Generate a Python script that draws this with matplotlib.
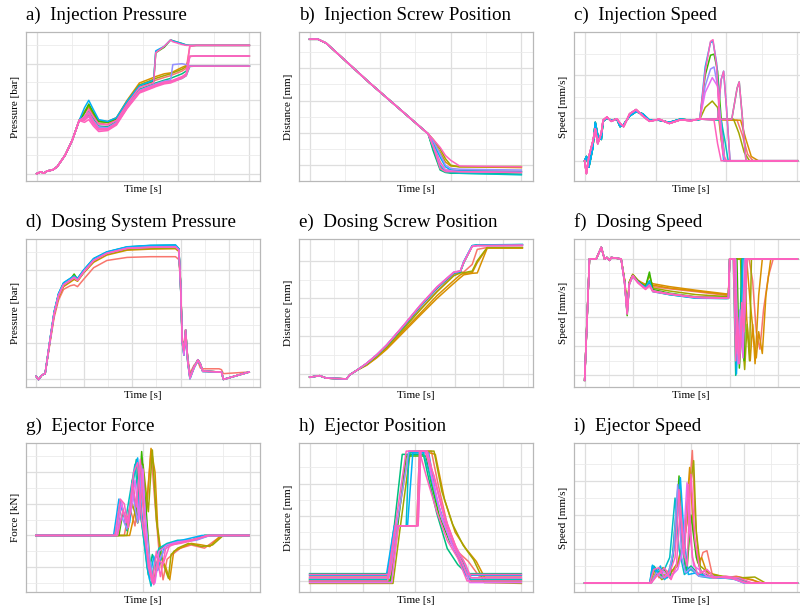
import matplotlib
matplotlib.use("Agg")
import matplotlib.pyplot as plt

plt.rcParams['font.family'] = ['Liberation Serif', 'DejaVu Serif']

# ggplot hue palette, 10 levels (last drawn = pink on top)
PALETTE = ['#F8766D', '#D89000', '#A3A500', '#39B600', '#00BF7D',
           '#00BFC4', '#00B0F6', '#9590FF', '#E76BF3', '#FF62BC']

TITLES = ["a)  Injection Pressure", "b)  Injection Screw Position", "c)  Injection Speed",
          "d)  Dosing System Pressure", "e)  Dosing Screw Position", "f)  Dosing Speed",
          "g)  Ejector Force", "h)  Ejector Position", "i)  Ejector Speed"]
YLABELS = ["Pressure [bar]", "Distance [mm]", "Speed [mm/s]",
           "Pressure [bar]", "Distance [mm]", "Speed [mm/s]",
           "Force [kN]", "Distance [mm]", "Speed [mm/s]"]

# ---------------- a) injection pressure ----------------
a_head_t = [0, 0.12, 0.2, 0.3, 0.45, 0.58, 0.8, 1.0, 1.2]
a_head_y = [0.0, 0.1, 0.02, 0.15, 0.2, 0.38, 1.0, 1.8, 2.9]
a_tail_t = [1.35, 1.47, 1.6, 1.75, 2.0, 2.25, 2.55, 2.9, 3.3, 3.36, 3.6, 3.78, 3.84, 4.1, 4.22, 4.32, 4.5, 6.0]
a_tails = [
    (0, [3.3, 3.6, 3.2, 2.75, 2.7, 2.95, 3.85, 4.7, 5.05, 5.1, 5.25, 5.35, 5.4, 5.6, 5.75, 6.95, 7.0, 7.0]),
    (1, [3.4, 3.75, 3.3, 2.9, 2.85, 3.05, 4.0, 4.95, 5.25, 5.3, 5.45, 5.5, 5.55, 5.8, 5.9, 5.88, 5.87, 5.87]),
    (2, [3.35, 3.7, 3.25, 2.85, 2.8, 3.0, 3.95, 4.85, 5.15, 5.2, 5.35, 5.45, 5.5, 5.7, 5.85, 6.4, 6.42, 6.42]),
    (3, [3.3, 3.8, 3.35, 2.85, 2.8, 3.0, 3.9, 4.8, 5.05, 6.6, 6.9, 7.3, 7.25, 7.1, 7.02, 7.0, 7.0, 7.0]),
    (4, [3.1, 3.4, 3.0, 2.6, 2.55, 2.85, 3.75, 4.6, 4.9, 4.95, 5.1, 5.2, 5.25, 5.45, 5.6, 5.88, 5.87, 5.87]),
    (5, [3.0, 3.2, 2.85, 2.5, 2.45, 2.75, 3.6, 4.45, 4.75, 4.8, 4.95, 5.0, 5.05, 5.2, 5.35, 5.85, 5.87, 5.87]),
    (6, [3.6, 4.0, 3.5, 2.95, 2.85, 3.05, 3.95, 4.8, 5.1, 6.7, 6.95, 7.3, 7.25, 7.1, 7.02, 7.0, 7.0, 7.0]),
    (7, [3.1, 3.35, 2.9, 2.55, 2.5, 2.8, 3.7, 4.55, 4.85, 4.9, 5.05, 5.1, 5.95, 6.0, 5.95, 5.88, 5.87, 5.87]),
    (8, [2.95, 3.1, 2.7, 2.4, 2.4, 2.7, 3.6, 4.45, 4.75, 4.8, 4.95, 5.0, 5.05, 5.25, 5.4, 6.4, 6.42, 6.42]),
    (9, [3.0, 3.3, 2.85, 2.45, 2.45, 2.75, 3.65, 4.5, 4.8, 4.85, 5.0, 5.05, 5.1, 5.3, 5.45, 6.95, 7.0, 7.0]),
    (9, [2.8, 2.95, 2.6, 2.3, 2.35, 2.65, 3.55, 4.4, 4.7, 4.75, 4.9, 4.95, 5.0, 5.2, 5.35, 6.4, 6.42, 6.42]),
    (9, [2.9, 3.15, 2.75, 2.4, 2.4, 2.7, 3.6, 4.48, 4.78, 4.82, 4.97, 5.02, 5.06, 5.26, 5.42, 5.86, 5.87, 5.87]),
    (9, [3.1, 3.5, 3.1, 2.7, 2.65, 2.9, 3.8, 4.7, 4.95, 6.6, 6.95, 7.3, 7.2, 7.05, 7.0, 7.0, 7.0, 7.0]),
]

# ---------------- b) injection screw position ----------------
b_head_t = [0, 0.24, 0.47, 1.7, 3.36]
b_head_y = [7.8, 7.8, 7.56, 5.1, 1.94]
b_tail_t = [3.5, 3.7, 3.85, 4.0, 4.25, 6.0]
b_tails = [
    (0, [1.3, 0.2, -0.3, -0.3, -0.35, -0.4]),
    (1, [1.5, 0.8, 0.2, -0.05, -0.1, -0.15]),
    (2, [1.6, 1.0, 0.4, 0.0, -0.1, -0.08]),
    (3, [1.0, -0.2, -0.35, -0.38, -0.4, -0.4]),
    (4, [0.9, -0.3, -0.45, -0.5, -0.5, -0.55]),
    (5, [1.1, 0.0, -0.4, -0.45, -0.5, -0.6]),
    (6, [1.4, 0.5, -0.1, -0.3, -0.35, -0.4]),
    (7, [1.5, 0.7, 0.0, -0.2, -0.25, -0.3]),
    (8, [1.2, 0.1, -0.3, -0.35, -0.4, -0.45]),
    (9, [1.2, -0.2, -0.4, -0.4, -0.4, -0.45]),
    (9, [1.6, 1.1, 0.6, 0.3, -0.05, -0.1]),
]

# ---------------- c) injection speed ----------------
c_head_t = [0, 0.05, 0.12, 0.23, 0.3, 0.37, 0.47, 0.52, 0.63, 0.75, 0.91, 1.0, 1.1,
            1.27, 1.45, 1.64, 1.83, 2.1, 2.39, 2.7, 3.0, 3.2]
c_head_y1 = [0.0, -0.6, 0.2, 0.9, 1.5, 0.8, 1.3, 1.9, 2.05, 1.85, 1.97, 1.75, 1.6,
             2.2, 2.4, 2.1, 1.85, 1.95, 1.75, 1.92, 1.88, 1.95]
c_head_y2 = [0.0, 0.2, -0.3, 0.6, 1.8, 1.2, 1.0, 1.85, 2.0, 1.9, 1.95, 1.6, 1.7,
             2.1, 2.3, 2.2, 1.9, 1.9, 1.8, 1.95, 1.9, 1.93]
c_tails = [
    (0, 1, [3.3, 4.3, 4.45, 4.6, 4.75, 6.0], [1.95, 1.9, 1.2, 0.3, 0.0, 0.0]),
    (1, 2, [3.3, 4.4, 4.55, 4.7, 4.9, 6.0], [1.95, 1.9, 1.0, 0.2, 0.0, 0.0]),
    (2, 2, [3.25, 3.4, 3.6, 3.75, 3.85, 3.95, 6.0], [1.95, 2.5, 2.8, 2.5, 1.0, 0.0, 0.0]),
    (2, 1, [3.3, 4.2, 4.35, 4.5, 4.65, 6.0], [1.95, 1.95, 1.3, 0.4, 0.0, 0.0]),
    (3, 2, [3.25, 3.4, 3.55, 3.65, 3.75, 3.85, 3.95, 6.0], [1.95, 4.0, 4.95, 5.0, 4.2, 2.0, 0.0, 0.0]),
    (4, 2, [3.3, 4.15, 4.3, 4.36, 4.45, 4.55, 6.0], [1.95, 1.95, 3.4, 3.7, 2.0, 0.0, 0.0]),
    (5, 2, [3.3, 3.85, 3.95, 4.05, 6.0], [1.95, 1.9, 1.0, 0.0, 0.0]),
    (6, 2, [3.25, 3.4, 3.55, 3.62, 3.72, 3.82, 3.92, 6.0], [1.95, 4.4, 5.55, 5.6, 4.6, 2.0, 0.0, 0.0]),
    (6, 2, [3.3, 3.75, 3.85, 3.92, 4.0, 4.1, 6.0], [1.95, 1.95, 3.8, 4.2, 2.5, 0.0, 0.0]),
    (7, 1, [3.25, 3.4, 3.55, 3.65, 3.75, 3.85, 3.95, 6.0], [1.95, 3.5, 4.3, 4.4, 3.5, 1.5, 0.0, 0.0]),
    (8, 1, [3.25, 3.4, 3.6, 3.75, 3.85, 3.95, 6.0], [1.95, 3.2, 3.9, 3.5, 1.5, 0.0, 0.0]),
    (9, 1, [3.25, 3.4, 3.55, 3.62, 3.72, 3.8, 3.9, 4.0, 6.0], [1.95, 4.2, 5.6, 5.68, 4.5, 2.0, 0.3, 0.0, 0.0]),
    (9, 1, [3.3, 3.75, 3.85, 3.92, 4.0, 4.1, 6.0], [1.95, 1.95, 3.8, 4.2, 2.5, 0.0, 0.0]),
    (9, 1, [3.3, 4.15, 4.3, 4.36, 4.45, 4.55, 6.0], [1.95, 1.95, 3.4, 3.7, 2.0, 0.0, 0.0]),
    (9, 1, [3.3, 3.65, 3.75, 3.85, 6.0], [1.95, 1.9, 0.8, 0.0, 0.0]),
]

# ---------------- d) dosing system pressure ----------------
d_head_t = [0, 0.1, 0.24, 0.375]
d_head_y = [0.13, -0.05, 0.2, 0.28]
d_mid_t = [0.58, 0.75, 0.93, 1.14, 1.42, 1.58, 1.72, 1.97, 2.39, 2.94, 3.78, 4.75, 5.79, 5.93]
d_tail_t = [6.0, 6.07, 6.14, 6.21, 6.3, 6.39, 6.56, 6.72, 6.82, 6.92, 7.6, 7.7, 7.78, 8.85]
d_tail_a = [5.3, 2.1, 1.55, 2.7, 1.0, 0.1, 0.65, 1.05, 0.83, 0.43, 0.37, 0.37, -0.04, 0.37]
d_tail_b = [5.3, 2.3, 1.7, 2.2, 1.2, 0.3, 0.75, 0.95, 0.6, 0.55, 0.55, 0.5, 0.28, 0.37]
d_tail_c = [5.2, 2.0, 1.3, 2.4, 0.9, 0.0, 0.6, 1.0, 0.8, 0.4, 0.37, 0.37, -0.04, 0.37]
d_mids = [
    (0, 'b', [2.0, 3.4, 4.35, 4.95, 5.15, 5.2, 5.1, 5.5, 6.15, 6.55, 6.72, 6.76, 6.76, 6.6]),
    (1, 'a', [2.1, 3.55, 4.5, 5.1, 5.35, 5.5, 5.4, 5.85, 6.45, 6.85, 7.12, 7.18, 7.2, 7.05]),
    (2, 'a', [2.12, 3.58, 4.55, 5.15, 5.4, 5.55, 5.42, 5.88, 6.5, 6.9, 7.16, 7.22, 7.24, 7.08]),
    (3, 'a', [2.15, 3.65, 4.65, 5.25, 5.5, 5.8, 5.5, 5.95, 6.6, 6.98, 7.27, 7.35, 7.37, 7.18]),
    (4, 'c', [2.2, 3.7, 4.7, 5.3, 5.55, 5.7, 5.55, 6.0, 6.65, 7.02, 7.3, 7.38, 7.4, 7.2]),
    (5, 'c', [2.18, 3.68, 4.68, 5.28, 5.52, 5.66, 5.52, 5.98, 6.63, 7.0, 7.28, 7.36, 7.38, 7.18]),
    (6, 'a', [2.2, 3.72, 4.72, 5.32, 5.56, 5.68, 5.55, 6.02, 6.66, 7.03, 7.31, 7.39, 7.41, 7.2]),
    (7, 'a', [2.15, 3.62, 4.62, 5.22, 5.47, 5.62, 5.47, 5.93, 6.57, 6.96, 7.24, 7.3, 7.32, 7.14]),
    (8, 'c', [2.13, 3.6, 4.6, 5.2, 5.45, 5.6, 5.45, 5.9, 6.55, 6.94, 7.22, 7.28, 7.3, 7.12]),
    (9, 'a', [2.15, 3.6, 4.6, 5.2, 5.45, 5.62, 5.45, 5.92, 6.55, 6.95, 7.22, 7.28, 7.3, 7.12]),
]

# ---------------- e) dosing screw position ----------------
e_head_t = [0, 0.41, 0.69, 1.52, 1.66, 1.94]
e_head_y = [-0.18, -0.1, -0.23, -0.27, -0.05, 0.18]
e_body_t = [2.35, 2.77, 3.18, 3.87, 4.56, 5.26, 5.95, 6.22, 6.36, 6.71, 6.92, 7.33, 8.78]
e_bodies = [
    (0, [0.5, 0.93, 1.45, 2.42, 3.42, 4.4, 5.25, 5.38, 5.4, 5.8, 6.6, 6.7, 6.7]),
    (1, [0.45, 0.85, 1.3, 2.2, 3.1, 4.0, 4.8, 5.1, 5.25, 5.33, 5.35, 6.67, 6.67]),
    (1, [0.47, 0.88, 1.35, 2.28, 3.2, 4.15, 4.95, 5.25, 5.33, 5.36, 5.9, 6.68, 6.68]),
    (2, [0.5, 0.92, 1.42, 2.38, 3.38, 4.35, 5.2, 5.35, 5.36, 5.45, 6.0, 6.7, 6.7]),
    (3, [0.54, 0.99, 1.5, 2.52, 3.58, 4.56, 5.36, 5.42, 5.9, 6.78, 6.82, 6.82, 6.84]),
    (4, [0.53, 0.98, 1.5, 2.5, 3.56, 4.54, 5.34, 5.4, 5.88, 6.78, 6.82, 6.83, 6.85]),
    (5, [0.55, 1.0, 1.52, 2.53, 3.6, 4.57, 5.37, 5.44, 5.92, 6.8, 6.83, 6.84, 6.86]),
    (6, [0.54, 0.99, 1.51, 2.52, 3.58, 4.56, 5.35, 5.42, 5.95, 6.8, 6.82, 6.82, 6.84]),
    (7, [0.55, 1.01, 1.53, 2.55, 3.62, 4.6, 5.38, 5.45, 5.95, 6.78, 6.8, 6.8, 6.82]),
    (8, [0.56, 1.02, 1.54, 2.56, 3.63, 4.62, 5.4, 5.46, 5.92, 6.76, 6.8, 6.8, 6.8]),
    (9, [0.55, 1.0, 1.52, 2.55, 3.62, 4.6, 5.38, 5.45, 5.9, 6.75, 6.8, 6.8, 6.82]),
]

# ---------------- f) dosing speed ----------------
f_head_t = [0, 0.2, 0.48, 0.69, 0.82, 0.92, 1.03, 1.1, 1.51]
f_head_y = [-0.34, 8.0, 8.0, 8.8, 8.0, 8.1, 7.9, 8.1, 8.0]
f_mid_t = [1.65, 1.76, 1.85, 1.99, 2.2, 2.34, 2.52, 2.68, 2.82, 3.5, 4.6, 5.85]
f_curves = [
    (0, [6.55, 4.5, 6.4, 6.9, 6.5, 6.3, 6.15, 6.3, 6.1, 5.95, 5.75, 5.5],
     [5.95, 6.0, 6.8, 6.95, 7.1, 7.25, 7.4, 7.6, 7.8, 8.8], [5.5, 8.0, 8.0, 6.5, 3.0, 1.8, 4.5, 6.8, 8.0, 8.0]),
    (1, [6.6, 4.6, 6.4, 6.9, 6.5, 6.35, 6.2, 6.4, 6.2, 6.0, 5.8, 5.55],
     [5.95, 6.0, 6.6, 6.7, 6.85, 6.95, 7.05, 7.2, 7.35, 8.8], [5.55, 8.0, 8.0, 4.0, 1.0, 3.5, 0.8, 5.5, 8.0, 8.0]),
    (1, [6.6, 4.7, 6.45, 6.95, 6.55, 6.4, 6.25, 6.45, 6.3, 6.1, 5.85, 5.6],
     [5.95, 6.0, 6.7, 6.85, 7.0, 7.1, 7.2, 7.35, 7.5, 7.7, 8.8], [5.6, 8.0, 8.0, 5.0, 2.5, 1.2, 3.0, 1.5, 5.5, 8.0, 8.0]),
    (2, [6.5, 4.4, 6.35, 6.88, 6.5, 6.3, 6.1, 6.9, 6.0, 5.8, 5.55, 5.42],
     [5.95, 6.0, 6.45, 6.55, 6.62, 6.72, 6.82, 6.9, 8.8], [5.42, 8.0, 8.0, 2.0, 0.4, 3.5, 1.0, 8.0, 8.0]),
    (3, [6.5, 4.1, 6.35, 6.9, 6.5, 6.3, 6.1, 7.1, 5.9, 5.65, 5.4, 5.35],
     [5.95, 6.0, 6.3, 6.4, 6.5, 6.6, 6.7, 8.8], [5.35, 8.0, 8.0, 0.5, 3.0, 1.0, 8.0, 8.0]),
    (4, [6.45, 4.25, 6.3, 6.82, 6.45, 6.25, 6.05, 6.4, 5.78, 5.55, 5.32, 5.28],
     [5.95, 6.0, 6.15, 6.25, 6.32, 6.4, 6.5, 8.8], [5.28, 8.0, 8.0, 0.0, 2.5, 1.5, 8.0, 8.0]),
    (6, [6.45, 4.3, 6.3, 6.8, 6.45, 6.25, 6.05, 6.5, 5.75, 5.55, 5.3, 5.28],
     [5.95, 6.0, 6.18, 6.28, 6.35, 6.45, 6.55, 8.8], [5.3, 8.0, 8.0, 0.1, 3.0, 2.0, 8.0, 8.0]),
    (7, [6.4, 4.3, 6.3, 6.85, 6.4, 6.2, 5.95, 6.2, 5.8, 5.6, 5.35, 5.3],
     [5.95, 6.0, 6.22, 6.32, 6.42, 6.52, 6.62, 8.8], [5.3, 8.0, 8.0, 1.5, 4.5, 2.0, 8.0, 8.0]),
    (8, [6.4, 4.25, 6.3, 6.86, 6.4, 6.2, 5.95, 6.2, 5.8, 5.6, 5.37, 5.32],
     [5.95, 6.0, 6.25, 6.35, 6.45, 6.55, 6.7, 8.8], [5.32, 8.0, 8.0, 0.8, 4.0, 1.2, 8.0, 8.0]),
    (9, [6.4, 4.2, 6.3, 6.86, 6.4, 6.2, 5.95, 6.2, 5.8, 5.6, 5.37, 5.32],
     [5.95, 6.0, 6.15, 6.25, 6.32, 6.42, 6.5, 6.6, 6.72, 8.8], [5.32, 8.0, 8.0, 1.0, 4.0, 1.5, 5.0, 3.0, 8.0, 8.0]),
    (9, [6.35, 4.3, 6.25, 6.8, 6.35, 6.15, 5.9, 6.15, 5.75, 5.58, 5.35, 5.3],
     [5.95, 6.0, 6.2, 6.3, 6.4, 6.55, 6.65, 8.8], [5.3, 8.0, 8.0, 2.5, 0.8, 4.5, 8.0, 8.0]),
]

# ---------------- g) ejector force ----------------
g_curves = [
    (0, [0, 3.3, 3.5, 3.7, 3.9, 4.1, 4.3, 4.45, 4.6, 4.75, 4.9, 5.1, 5.4, 5.8, 6.3, 6.7, 7.0, 7.96],
        [0, 0, 1.8, 0.6, 3.8, 1.0, 5.3, 2.0, -1.0, -2.8, -1.5, -1.2, -0.8, -0.6, -0.8, -0.3, 0, 0]),
    (1, [0, 3.5, 3.7, 3.9, 4.1, 4.3, 4.45, 4.55, 4.7, 4.85, 5.0, 5.15, 5.4, 5.8, 6.2, 6.5, 6.9, 7.96],
        [0, 0, 1.5, 3.0, 1.0, 5.5, 4.0, 0.5, -1.5, -2.0, -2.8, -1.0, -0.8, -0.5, -0.6, -0.7, 0, 0]),
    (2, [0, 3.4, 3.6, 3.8, 4.0, 4.2, 4.35, 4.5, 4.65, 4.8, 4.95, 5.05, 5.3, 5.7, 6.2, 6.6, 7.0, 7.96],
        [0, 0, 2.0, 0.8, 4.5, 1.5, 5.4, 1.0, -1.0, -2.0, -2.7, -1.2, -0.8, -0.5, -0.7, -0.6, 0, 0]),
    (3, [0, 3.1, 3.25, 3.45, 3.6, 3.8, 3.95, 4.1, 4.25, 4.4, 4.55, 4.7, 5.0, 5.4, 5.8, 6.3, 7.96],
        [0, 0, 1.5, 0.5, 3.5, 0.8, 5.3, 2.0, -1.5, -3.0, -1.5, -0.8, -0.5, -0.4, -0.3, 0, 0]),
    (4, [0, 3.0, 3.2, 3.4, 3.6, 3.75, 3.9, 4.05, 4.2, 4.35, 4.5, 4.65, 4.9, 5.3, 5.8, 6.3, 7.96],
        [0, 0, 2.0, 0.3, 3.0, 4.8, 1.5, -0.5, -2.5, -1.2, -2.0, -0.9, -0.6, -0.4, -0.3, 0, 0]),
    (5, [0, 2.95, 3.15, 3.35, 3.5, 3.7, 3.85, 4.0, 4.15, 4.3, 4.45, 4.6, 4.9, 5.3, 5.9, 6.5, 7.96],
        [0, 0, 2.2, 1.0, 2.5, 4.5, 2.0, 0.2, -2.0, -3.2, -1.5, -0.8, -0.5, -0.3, -0.3, 0, 0]),
    (6, [0, 2.9, 3.1, 3.3, 3.5, 3.65, 3.8, 3.95, 4.1, 4.25, 4.4, 4.55, 4.8, 5.2, 5.7, 6.2, 7.96],
        [0, 0, 2.3, 1.2, 0.8, 3.8, 4.9, 1.5, -0.8, -2.8, -1.3, -2.2, -0.7, -0.4, -0.2, 0, 0]),
    (7, [0, 3.0, 3.2, 3.4, 3.6, 3.8, 3.95, 4.1, 4.25, 4.4, 4.6, 4.8, 5.1, 5.5, 6.0, 6.5, 7.96],
        [0, 0, 1.2, 0.4, 2.8, 0.8, 4.4, 1.0, -1.5, -3.1, -1.6, -0.9, -0.5, -0.4, -0.3, 0, 0]),
    (8, [0, 3.0, 3.2, 3.35, 3.55, 3.7, 3.85, 4.0, 4.15, 4.3, 4.45, 4.6, 4.9, 5.3, 5.8, 6.4, 7.96],
        [0, 0, 2.1, 0.8, 1.5, 3.5, 1.0, 4.2, -1.0, -2.5, -3.0, -1.0, -0.6, -0.4, -0.3, 0, 0]),
    (9, [0, 2.95, 3.15, 3.3, 3.45, 3.65, 3.8, 3.95, 4.1, 4.25, 4.4, 4.55, 4.75, 5.0, 5.4, 5.9, 6.4, 7.96],
        [0, 0, 2.3, 2.0, 0.5, 4.0, 4.6, 1.0, -0.5, -2.0, -3.1, -1.5, -1.8, -0.6, -0.5, -0.3, 0, 0]),
    (9, [0, 3.05, 3.25, 3.45, 3.6, 3.75, 3.9, 4.05, 4.2, 4.35, 4.5, 4.65, 4.85, 5.1, 5.5, 6.0, 6.5, 7.96],
        [0, 0, 1.6, 0.6, 3.3, 1.8, 4.8, 0.5, -2.0, -3.0, -1.0, -2.6, -0.8, -0.6, -0.4, -0.2, 0, 0]),
]

# ---------------- h) ejector position ----------------
h_curves = [
    (0, [0, 3.0, 3.3, 3.75, 4.6, 4.85, 5.2, 5.6, 6.0, 6.4, 8.0],
        [0.3, 0.3, 3.4, 8.0, 8.0, 6.0, 3.5, 1.8, 1.2, 0.3, 0.3]),
    (1, [0, 3.1, 3.35, 4.05, 4.15, 4.3, 4.75, 5.1, 5.5, 5.9, 6.3, 6.65, 8.0],
        [0.1, 0.1, 3.4, 3.4, 7.9, 8.0, 7.8, 5.0, 3.0, 2.0, 1.2, 0.1, 0.1]),
    (2, [0, 3.15, 3.4, 3.8, 4.0, 4.7, 5.0, 5.4, 5.8, 6.2, 6.6, 8.0],
        [-0.15, -0.15, 3.0, 7.9, 8.0, 8.0, 5.5, 3.5, 2.2, 1.3, -0.1, -0.15]),
    (3, [0, 3.05, 3.3, 3.65, 4.4, 4.6, 4.9, 5.3, 5.7, 6.1, 8.0],
        [0.0, 0.0, 3.0, 7.7, 7.7, 6.0, 4.0, 2.4, 1.5, 0.0, 0.0]),
    (4, [0, 2.95, 3.2, 3.5, 4.3, 4.5, 4.8, 5.2, 5.6, 5.95, 8.0],
        [0.45, 0.45, 3.4, 7.8, 7.8, 6.3, 4.2, 2.0, 1.0, 0.45, 0.45]),
    (5, [0, 2.95, 3.25, 3.65, 3.75, 4.3, 4.55, 4.9, 5.3, 5.7, 6.0, 8.0],
        [0.1, 0.1, 3.4, 3.4, 7.9, 7.9, 6.5, 4.5, 2.5, 1.2, 0.1, 0.1]),
    (6, [0, 2.9, 3.2, 3.7, 3.9, 4.5, 4.8, 5.2, 5.6, 5.9, 8.0],
        [0.35, 0.35, 3.4, 3.4, 7.9, 7.9, 5.0, 3.0, 1.5, 0.35, 0.35]),
    (7, [0, 3.0, 3.3, 3.75, 4.4, 4.7, 5.0, 5.4, 5.8, 6.05, 8.0],
        [0.2, 0.2, 3.5, 8.0, 8.0, 5.8, 3.8, 2.2, 1.3, 0.2, 0.2]),
    (8, [0, 3.1, 3.35, 4.1, 4.2, 4.4, 4.6, 4.95, 5.35, 5.75, 6.05, 8.0],
        [-0.1, -0.1, 3.4, 3.4, 8.0, 8.0, 6.5, 4.2, 2.3, 1.2, -0.1, -0.1]),
    (9, [0, 2.95, 3.25, 4.1, 4.2, 4.35, 4.7, 5.1, 5.5, 5.9, 6.1, 8.0],
        [0.2, 0.2, 3.4, 3.4, 8.0, 8.0, 6.5, 4.0, 2.2, 1.0, 0.2, 0.2]),
    (9, [0, 2.95, 3.2, 3.65, 4.15, 4.4, 4.8, 5.2, 5.6, 5.95, 8.0],
        [0.0, 0.0, 3.0, 8.0, 8.0, 6.5, 4.3, 2.5, 1.4, 0.0, 0.0]),
    (9, [0, 3.05, 3.35, 4.05, 4.15, 4.45, 4.75, 5.15, 5.55, 5.95, 8.0],
        [0.4, 0.4, 3.4, 3.4, 8.0, 8.0, 6.0, 3.5, 1.8, 0.4, 0.4]),
]

# ---------------- i) ejector speed ----------------
i_curves = [
    (0, [0, 2.45, 2.6, 2.8, 3.0, 3.3, 3.6, 3.85, 4.05, 4.15, 4.3, 4.45, 4.6, 4.8, 5.0, 5.3, 5.7, 6.2, 6.7, 8.0],
        [0, 0, 0.9, 0.3, 0.8, 0.5, 1.5, 3.5, 7.8, 4.0, 1.0, 1.8, 1.9, 0.5, 0.4, 0.3, 0.4, 0.2, 0.0, 0.0]),
    (1, [0, 2.5, 2.7, 2.9, 3.2, 3.5, 3.75, 3.95, 4.1, 4.25, 4.4, 4.6, 4.9, 5.3, 5.8, 6.3, 6.6, 8.0],
        [0, 0, 0.7, 0.4, 0.6, 1.0, 2.5, 6.8, 3.0, 1.2, 1.5, 0.6, 0.5, 0.3, 0.35, 0.2, 0.0, 0.0]),
    (2, [0, 2.45, 2.65, 2.9, 3.2, 3.5, 3.8, 4.0, 4.1, 4.2, 4.35, 4.5, 4.8, 5.2, 5.8, 6.4, 6.8, 8.0],
        [0, 0, 0.8, 0.2, 0.5, 1.2, 3.0, 6.0, 7.2, 3.0, 1.0, 0.8, 0.5, 0.4, 0.3, 0.35, 0.0, 0.0]),
    (3, [0, 2.5, 2.7, 2.95, 3.2, 3.4, 3.55, 3.7, 3.85, 4.0, 4.2, 4.4, 4.7, 5.1, 5.6, 6.2, 8.0],
        [0, 0, 0.5, 0.9, 0.3, 2.5, 6.3, 2.0, 0.8, 4.0, 1.5, 0.6, 0.4, 0.3, 0.3, 0.0, 0.0]),
    (4, [0, 2.45, 2.6, 2.85, 3.1, 3.3, 3.5, 3.65, 3.8, 4.0, 4.3, 4.7, 5.2, 5.8, 6.2, 8.0],
        [0, 0, 1.0, 0.5, 0.3, 1.5, 5.5, 2.5, 0.7, 1.0, 0.5, 0.4, 0.35, 0.3, 0.0, 0.0]),
    (5, [0, 2.45, 2.55, 2.75, 3.0, 3.2, 3.4, 3.55, 3.75, 4.0, 4.3, 4.7, 5.2, 5.7, 6.0, 8.0],
        [0, 0, 1.0, 0.6, 0.8, 1.5, 5.0, 2.0, 0.5, 0.8, 0.4, 0.3, 0.3, 0.2, 0.0, 0.0]),
    (6, [0, 2.45, 2.55, 2.7, 2.85, 3.0, 3.2, 3.45, 3.6, 3.75, 3.9, 4.2, 4.6, 5.0, 5.5, 6.0, 8.0],
        [0, 0, 1.05, 0.6, 1.0, 0.2, 0.5, 3.0, 6.2, 2.5, 0.5, 0.6, 0.4, 0.3, 0.3, 0.0, 0.0]),
    (7, [0, 2.5, 2.7, 2.9, 3.15, 3.35, 3.5, 3.65, 3.8, 4.0, 4.3, 4.7, 5.2, 5.7, 6.1, 8.0],
        [0, 0, 0.6, 0.3, 0.5, 2.0, 5.8, 1.5, 0.6, 0.9, 0.4, 0.35, 0.3, 0.25, 0.0, 0.0]),
    (8, [0, 2.5, 2.7, 2.95, 3.2, 3.5, 3.7, 3.85, 3.95, 4.1, 4.3, 4.6, 5.0, 5.5, 6.0, 8.0],
        [0, 0, 0.4, 0.7, 0.3, 0.8, 2.0, 5.9, 3.0, 1.0, 0.8, 0.4, 0.35, 0.3, 0.0, 0.0]),
    (9, [0, 2.45, 2.6, 2.8, 3.0, 3.2, 3.4, 3.55, 3.7, 3.85, 4.0, 4.15, 4.35, 4.6, 4.9, 5.3, 5.8, 6.3, 8.0],
        [0, 0, 0.8, 0.9, 0.3, 0.6, 1.5, 5.5, 2.0, 1.0, 6.4, 2.5, 0.6, 0.8, 0.3, 0.4, 0.3, 0.0, 0.0]),
    (9, [0, 2.5, 2.75, 3.0, 3.25, 3.45, 3.6, 3.75, 3.9, 4.05, 4.25, 4.5, 4.8, 5.2, 5.6, 6.1, 8.0],
        [0, 0, 0.5, 0.9, 0.2, 1.0, 4.5, 1.5, 5.8, 1.5, 0.5, 0.7, 0.3, 0.35, 0.25, 0.0, 0.0]),
]

# build per-panel line lists: (colour index, t, y)
lines_a = [(c, a_head_t + a_tail_t, a_head_y + y) for c, y in a_tails]
lines_b = [(c, b_head_t + b_tail_t, b_head_y + y) for c, y in b_tails]
lines_c = [(c, c_head_t + t, (c_head_y1 if h == 1 else c_head_y2) + y) for c, h, t, y in c_tails]
d_tail_map = {'a': d_tail_a, 'b': d_tail_b, 'c': d_tail_c}
lines_d = [(c, d_head_t + d_mid_t + d_tail_t, d_head_y + m + d_tail_map[k]) for c, k, m in d_mids]
lines_e = [(c, e_head_t + e_body_t, e_head_y + y) for c, y in e_bodies]
lines_f = [(c, f_head_t + f_mid_t + t, f_head_y + m + y) for c, m, t, y in f_curves]
lines_g = list(g_curves)
lines_h = list(h_curves)
lines_i = list(i_curves)

ALL_LINES = [lines_a, lines_b, lines_c, lines_d, lines_e, lines_f, lines_g, lines_h, lines_i]
XLIMS = [(-0.3, 6.3), (-0.3, 6.33), (-0.3, 6.3),
         (-0.42, 9.3), (-0.44, 9.22), (-0.44, 9.24),
         (-0.375, 8.375), (-0.4, 8.44), (-0.4, 8.4)]
YLIMS = [(-0.4, 7.73), (-0.98, 8.25), (-0.95, 6.04),
         (-0.46, 7.74), (-0.7, 7.15), (-0.8, 9.37),
         (-3.57, 5.84), (-0.68, 8.5), (-0.53, 8.24)]
# grid positions: (first, last) in data units, one line per unit
XGRID = [(0, 6), (0, 6), (0, 6), (0, 9), (0, 9), (0, 8), (0, 8), (0, 8), (0, 8)]
YGRID = [(0, 7), (0, 7), (0, 5), (0, 7), (0, 6), (0, 8), (-3, 5), (0, 7), (0, 7)]

W, H = 800, 609
fig = plt.figure(figsize=(W / 100, H / 100), dpi=100)
col_left = [26, 299, 574]
row_top = [32, 239, 443]
row_bottom = [181, 387, 592]
pw = 234

for k in range(9):
    r, cc = divmod(k, 3)
    ax = fig.add_axes([col_left[cc] / W, 1 - row_bottom[r] / H, pw / W, (row_bottom[r] - row_top[r]) / H])
    xs = list(range(XGRID[k][0], XGRID[k][1] + 1))
    ys = list(range(YGRID[k][0], YGRID[k][1] + 1))
    ax.set_xticks([v for v in xs if v % 2 == 0])
    ax.set_xticks([v for v in xs if v % 2 != 0], minor=True)
    ax.set_yticks([v for v in ys if v % 2 == 0])
    ax.set_yticks([v for v in ys if v % 2 != 0], minor=True)
    ax.grid(True, which='major', color='#DEDEDE', linewidth=0.9)
    ax.grid(True, which='minor', color='#EBEBEB', linewidth=0.6)
    ax.set_axisbelow(True)
    ax.tick_params(which='both', length=0, labelbottom=False, labelleft=False)
    for sp in ax.spines.values():
        sp.set_color('#B8B8B8')
        sp.set_linewidth(0.9)
    for c, t, y in ALL_LINES[k]:
        ax.plot(t, y, color=PALETTE[c], linewidth=1.1, solid_joinstyle='round')
    ax.set_xlim(*XLIMS[k])
    ax.set_ylim(*YLIMS[k])
    ax.set_title(TITLES[k], loc='left', fontsize=13.7, pad=8.5)
    ax.set_xlabel("Time [s]", fontsize=8, labelpad=3)
    ax.set_ylabel(YLABELS[k], fontsize=8, labelpad=4)

fig.savefig("out.png", dpi=100)
